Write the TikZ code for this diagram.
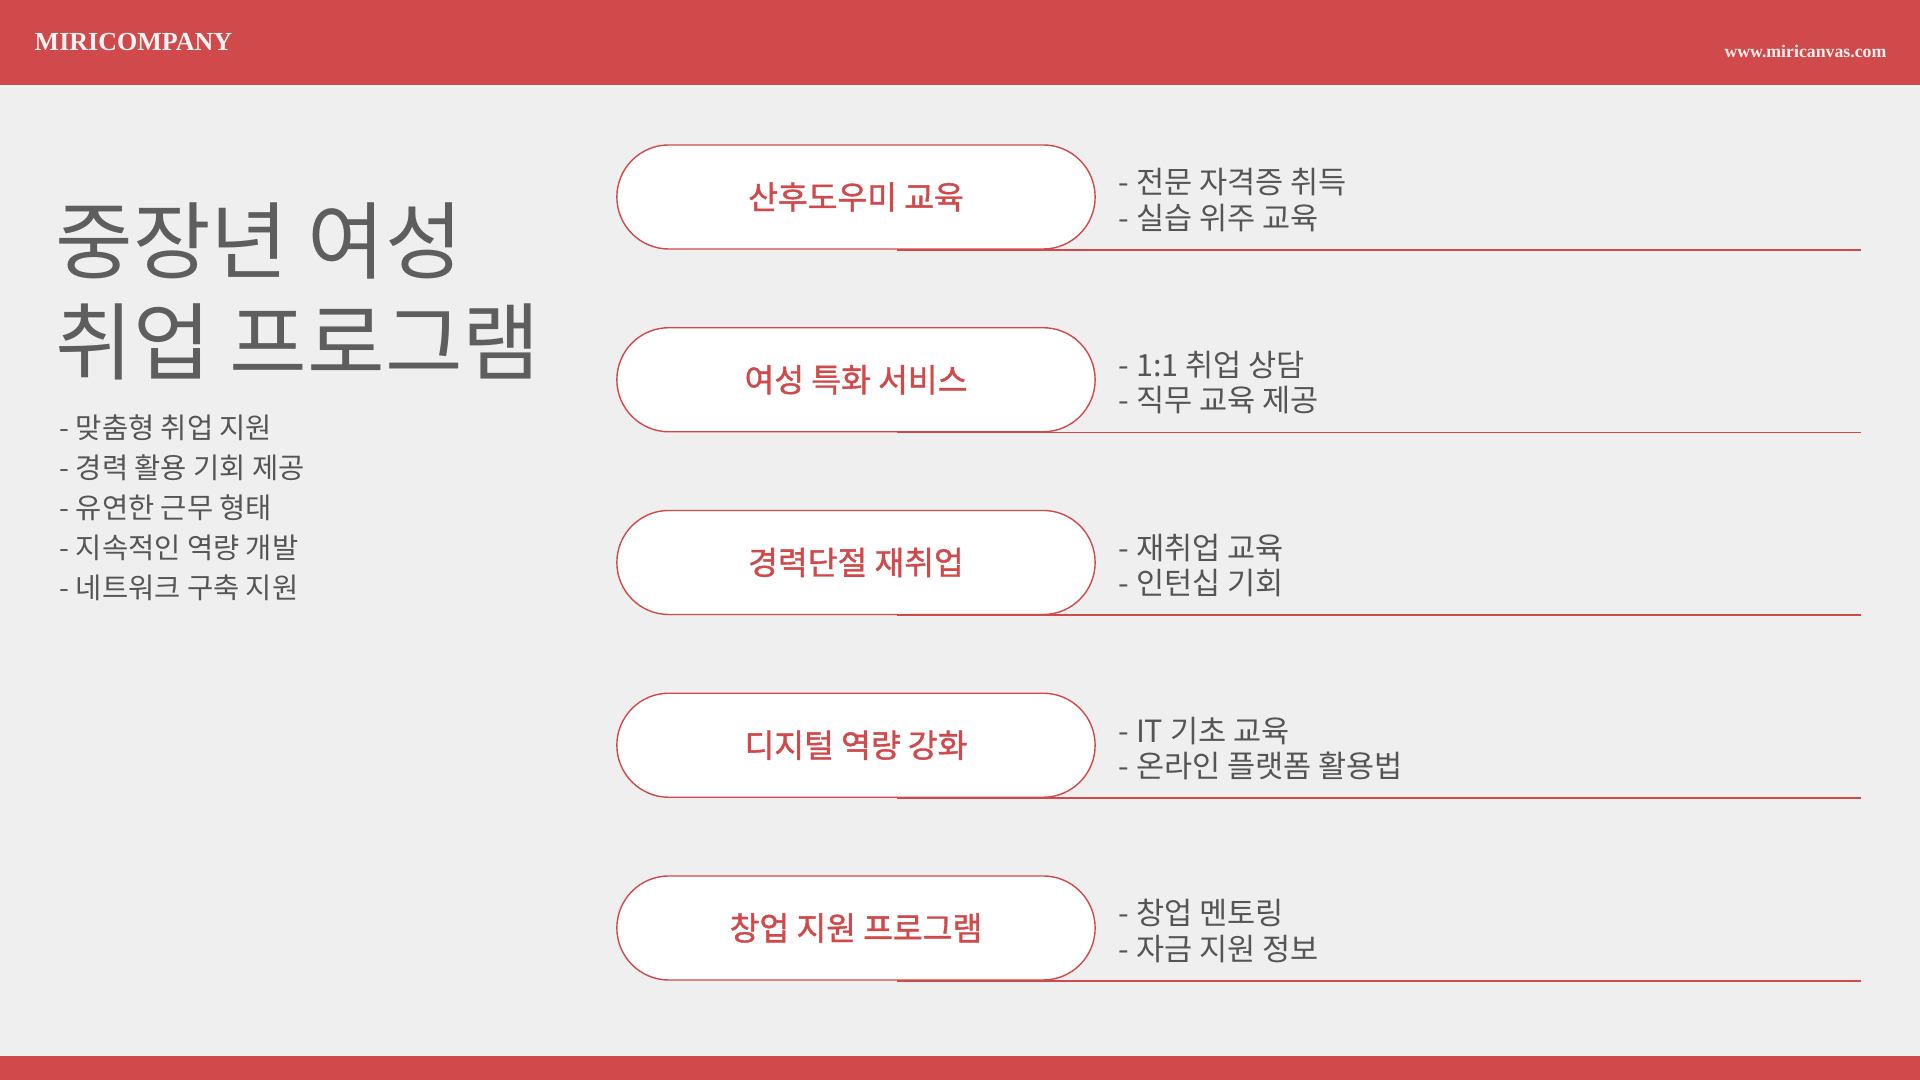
\documentclass[tikz,border=0pt]{standalone}
\usepackage{fontspec}
\setmainfont{Noto Sans CJK KR}
\newfontfamily\pillfont[FakeBold=1.2]{Noto Sans CJK KR}
\newfontfamily\logofont{Liberation Serif}
\usepackage{xcolor}
\usetikzlibrary{positioning,calc}
\definecolor{miriRed}{HTML}{D04A4B}
\definecolor{miriBg}{HTML}{EFEFEF}
\definecolor{miriGray}{HTML}{555555}
\tikzset{
  pill/.style={draw=miriRed,line width=0.4pt,fill=white,rounded corners=0.52cm,minimum width=4.78cm,minimum height=1.04cm,text=miriRed,font=\pillfont\fontsize{9.2pt}{10pt}\selectfont},
  desc/.style={text=miriGray,align=left,anchor=west,inner sep=0pt,font=\fontsize{8.7pt}{10pt}\selectfont},
  uline/.style={draw=miriRed,line width=0.5pt}
}
\begin{document}
\begin{tikzpicture}[x=0.01cm,y=-0.01cm]
    \useasboundingbox (0,0) rectangle (1920,1080);
    % fundo, faixa de cima e faixa de baixo
    \fill[miriBg] (0,0) rectangle (1920,1080);
    \fill[miriRed] (0,0) rectangle (1920,85);
    \fill[miriRed] (0,1056) rectangle (1920,1080);
    \node[anchor=west,inner sep=0pt,text=white!94!miriRed,font=\logofont\fontsize{7.4pt}{9pt}\selectfont\bfseries] (logo) at (34,42) {MIRICOMPANY};
    \node[anchor=east,inner sep=0pt,text=white!90!miriRed,font=\logofont\fontsize{5.05pt}{7pt}\selectfont\bfseries] (url) at (1887,51) {www.miricanvas.com};
    % titulo e lista da esquerda
    \node[anchor=west,inner sep=0pt,align=left,text=miriGray!95!white,font=\fontsize{24pt}{28.7pt}\selectfont] (title) at (55,291) {중장년 여성\\취업 프로그램};
    \node[anchor=west,inner sep=0pt,align=left,text=miriGray,font=\fontsize{8.1pt}{11.4pt}\selectfont] (goals) at (59,508) {- 맞춤형 취업 지원\\- 경력 활용 기회 제공\\- 유연한 근무 형태\\- 지속적인 역량 개발\\- 네트워크 구축 지원};
    % programas com descricao e linha
    \foreach \i/\t/\a/\b [evaluate=\i as \y using 197+(\i-1)*182.75] in {1/산후도우미 교육/전문 자격증 취득/실습 위주 교육,2/여성 특화 서비스/1:1 취업 상담/직무 교육 제공,3/경력단절 재취업/재취업 교육/인턴십 기회,4/디지털 역량 강화/IT 기초 교육/온라인 플랫폼 활용법,5/창업 지원 프로그램/창업 멘토링/자금 지원 정보} {
        \node[pill] (p\i) at (856,\y) {\t};
        \coordinate (r\i) at (1861,\y);
        \draw[uline] ($(p\i.south)+(41,0)$) -- (p\i.south -| r\i);
        \node[desc] (d\i) at ($(p\i.east)+(22,3)$) {- \a\\- \b};
    }
\end{tikzpicture}
\end{document}
